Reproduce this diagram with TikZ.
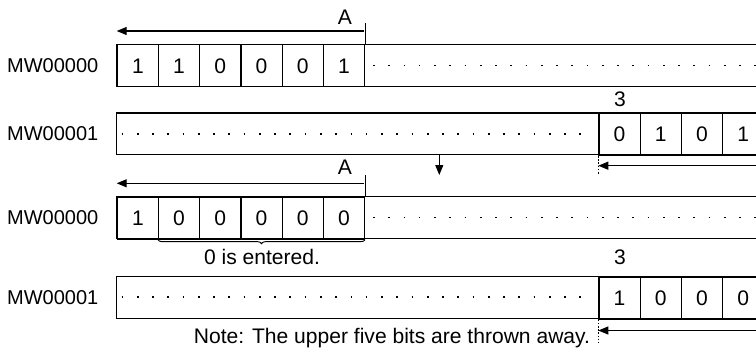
\documentclass[tikz,border=0pt]{standalone}
\usepackage{fontspec}
\setmainfont{Liberation Sans}
\usetikzlibrary{arrows.meta,positioning,decorations.pathreplacing}
\newcommand{\cw}{41.2}

\begin{document}
\begin{tikzpicture}[x=0.75pt,y=-0.75pt,font=\fontsize{15.8}{19}\selectfont,
    word/.style={draw,line width=0.9pt},
    cell/.style={draw,line width=0.9pt,minimum width=30.9pt,minimum height=31.3pt,inner sep=0pt,anchor=north west},
    regname/.style={anchor=east,font=\fontsize{15}{18}\selectfont},
    dots/.style={line width=1.3pt,dash pattern=on 1.3pt off 10.14pt},
    shiftarrow/.style={line width=0.8pt,-{Triangle[length=7.5pt,width=6pt]}},
    cutline/.style={line width=0.7pt,dash pattern=on 1.2pt off 1.2pt}]
    \clip (0,0) rectangle (756,353);
    % before the shift
    \node[regname] (lbl1) at (103,65.5) {MW00000};
    \draw[word] (116.7,44.3) rectangle (800,86.1);
    \foreach \v [count=\i] in {1,1,0,0,0,1}
      \node[cell] (u\i) at ({116.7+(\i-1)*\cw},44.3) {\v};
    \draw[dots] (373,65.5) -- (800,65.5);
    \draw[line width=0.8pt] (u6.north east) -- ++(0,-21.3) coordinate (a1top);
    \coordinate (a1) at (364,31);
    \draw[shiftarrow] (a1) -- (a1 -| u1.west);
    \node (lblA1) at (345,17.5) {A};

    \node[regname] (lbl2) at (103,134) {MW00001};
    \draw[word] (116.7,113) rectangle (800,154.8);
    \foreach \v [count=\i] in {0,1,0,1}
      \node[cell] (l\i) at ({598.3+(\i-1)*\cw},113) {\v};
    \draw[dots] (121.7,134) -- (590,134);
    \node (lbl3a) at (620,99) {3};
    \coordinate (b1) at (800,165.7);
    \draw[shiftarrow] (b1) -- (b1 -| l1.west);
    \draw[cutline] (l1.south west) -- ++(0,18);

    \coordinate (down0) at (439.3,154.8);
    \draw[shiftarrow] (down0) -- (439.3,175);

    % after the shift
    \node[regname] (lbl3) at (103,217.5) {MW00000};
    \draw[word] (116.7,196.7) rectangle (800,238.5);
    \foreach \v [count=\i] in {1,0,0,0,0,0}
      \node[cell] (v\i) at ({116.7+(\i-1)*\cw},196.7) {\v};
    \draw[dots] (373,217.5) -- (800,217.5);
    \draw[line width=0.8pt] (v6.north east) -- ++(0,-21.7) coordinate (a2top);
    \coordinate (a2) at (364,183.3);
    \draw[shiftarrow] (a2) -- (a2 -| v1.west);
    \node (lblA2) at (345,167.5) {A};
    \draw[line width=0.7pt,decorate,decoration={brace,amplitude=3pt,mirror}] (v2.south west) -- (v6.south east);
    \node (entered) at (262,256.7) {0 is entered.};

    \node[regname] (lbl4) at (103,297.2) {MW00001};
    \draw[word] (116.7,276.7) rectangle (800,318.5);
    \foreach \v [count=\i] in {1,0,0,0}
      \node[cell] (w\i) at ({598.3+(\i-1)*\cw},276.7) {\v};
    \draw[dots] (121.7,297.2) -- (590,297.2);
    \node (lbl3b) at (620,257) {3};
    \coordinate (b2) at (800,330.5);
    \draw[shiftarrow] (b2) -- (b2 -| w1.west);
    \draw[cutline] (w1.south west) -- ++(0,23);
    \node[anchor=base] (note) at (392,343.3) {Note: The upper five bits are thrown away.};
\end{tikzpicture}
\end{document}
